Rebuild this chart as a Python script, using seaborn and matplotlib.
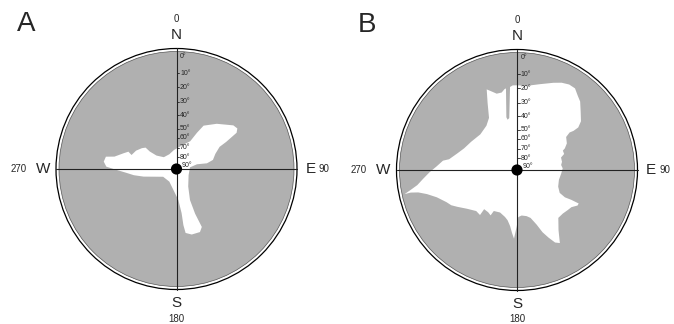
import numpy as np
import matplotlib.pyplot as plt
import matplotlib.patches as mpatches
import seaborn as sns

# elevation scale of the sky charts: label elevations and their radius (fraction of disk)
elev_ticks = [0, 10, 20, 30, 40, 50, 60, 70, 80, 90]
elev_frac = [1.0, 0.82, 0.70, 0.575, 0.46, 0.345, 0.265, 0.18, 0.10, 0.0]

# open-sky outline, site A (azimuth clockwise from N, elevation in degrees)
az_a = [32, 41.7, 52.5, 56.3, 58.9, 61.4, 62.8, 68.7, 76, 79.4, 77, 83, 116.9, 146.2,
        156.5, 157.4, 156.4, 159.6, 166.9, 171.9, 173, 173.4, 176.6, 188.6, 209.5,
        239.8, 257, 261.7, 266, 269.7, 271.9, 275.8, 279.9, 281.3, 286.6, 289.8,
        287.3, 294.4, 301.1, 304.7, 303.2, 303.9, 313, 334, 352.5, 372.7, 386.3, 389.5]
el_a = [42, 35, 27, 26, 28, 38, 44, 49, 53, 60, 70, 78, 78, 70,
        57, 44, 33, 30, 30, 32, 38, 47, 60, 70, 77,
        76, 57, 48, 42, 34, 28, 26, 27, 33, 39, 42,
        45, 47, 50, 53, 59, 67, 74, 75, 72, 67, 60, 49]

# open-sky outline, site B
az_b = [0, 6.5, 15.1, 22.7, 27.1, 31.4, 35.4, 39.3, 42.7, 47.7, 52.7, 55.2, 55.3, 54.5,
        56.1, 61.9, 65.7, 67.1, 71.2, 74.2, 79.7, 83.5, 87.9, 94.3, 103.3, 112, 118.2,
        119.7, 118.8, 118.5, 120.4, 124.3, 128.5, 133.5, 139.2, 145.4, 149.6, 152.3,
        155, 157.7, 160.3, 164.2, 168.3, 174.2, 178.4, 180.3, 182.5, 184.5, 187, 190.6,
        194.4, 201.7, 209.5, 210.2, 214.3, 220, 219.4, 224.8, 232.2, 238.4, 241.8, 245.5,
        251.2, 255, 257.2, 258, 257.9, 259.3, 261.4, 264.5, 268.5, 272.6, 277.2, 279,
        285.6, 292.2, 301.7, 314.2, 325.4, 331.8, 336.3, 339.4, 341.5, 345.1, 348.8,
        351.3, 352.3, 348.6, 349.4, 351.5, 355.2, 357.1]
el_b = [18, 18, 15, 11, 9, 8, 8, 10, 12, 17, 21, 25, 29, 32,
        36, 38, 41, 43, 43, 46, 46, 47, 46, 47, 48, 47, 44,
        39, 34, 28, 28, 31, 32, 33, 33, 26, 18, 20,
        25, 30, 37, 43, 45, 46, 45, 38, 29, 33, 38, 42,
        44, 46, 45, 41, 42, 42, 36.7, 37, 33, 28, 25, 23,
        18, 12, 7.5, 4, 1, 4, 7.7, 11, 16, 21, 25, 29,
        34, 37.5, 40, 42, 40, 36, 26, 17, 19, 22, 22,
        20, 19.7, 40, 42, 41, 19, 18]

cardinal_text = ["N", "E", "S", "W"]
cardinal_deg = ["0", "90", "180", "270"]

GREY = "#b0b0b0"
R_OUT = 120.5
R_SKY = 117.0

sns.set_theme(style="white")
plt.rcParams["font.family"] = ["Liberation Sans", "DejaVu Sans"]

fig = plt.figure(figsize=(6.74, 3.24), dpi=100)


def sky_panel(ax, az, el, letter):
    ax.add_patch(mpatches.Circle((0, 0), R_OUT, fc="white", ec="black", lw=0.9))
    ax.add_patch(mpatches.Circle((0, 0), R_SKY + 0.5, fc=GREY, ec="#555555", lw=0.5))

    # open sky
    r = R_SKY * np.interp(el, elev_ticks, elev_frac)
    a = np.radians(az)
    ax.fill(r * np.sin(a), r * np.cos(a), color="white", lw=0, zorder=2)

    # cross hairs
    ax.plot([-R_OUT, R_OUT], [0, 0], color="#222222", lw=0.8, zorder=3)
    ax.plot([0, 0], [-R_OUT, R_OUT], color="#222222", lw=0.8, zorder=3)

    # elevation scale
    for e in elev_ticks:
        y = R_SKY * np.interp(e, elev_ticks, elev_frac)
        va = "center"
        if e == 0:
            va = "top"
            y -= 1
        elif e == 90:
            va = "bottom"
        else:
            ax.plot([0, 2.5], [y, y], color="#222222", lw=0.6, zorder=3)
        ax.text(5.5 if e == 90 else 3.5, y, f"{e}°", fontsize=5, ha="left", va=va, zorder=4)

    sns.scatterplot(x=[0], y=[0], ax=ax, color="black", s=65, edgecolor="none",
                    zorder=5, legend=False)

    # compass labels
    pos = [(0, 134), (134, 0), (0, -134), (-133.5, 0)]
    deg_pos = [(0, 150), (147.5, 0), (0, -149.5), (-158, 0)]
    for t, d, p, q in zip(cardinal_text, cardinal_deg, pos, deg_pos):
        ax.text(p[0], p[1], t, fontsize=11, ha="center", va="center")
        ax.text(q[0], q[1], d, fontsize=7, ha="center", va="center")

    ax.text(-150, 145, letter, fontsize=20, ha="center", va="center")
    ax.set_aspect("equal")
    ax.axis("off")


ax_a = fig.add_axes([0, 0, 340 / 674, 1])
ax_a.set_xlim(-176.5, 163.5)
ax_a.set_ylim(-155, 169)
sky_panel(ax_a, az_a, el_a, "A")

ax_b = fig.add_axes([340 / 674, 0, 334 / 674, 1])
ax_b.set_xlim(-177, 157)
ax_b.set_ylim(-154, 170)
sky_panel(ax_b, az_b, el_b, "B")

fig.savefig("out.png", dpi=100)
